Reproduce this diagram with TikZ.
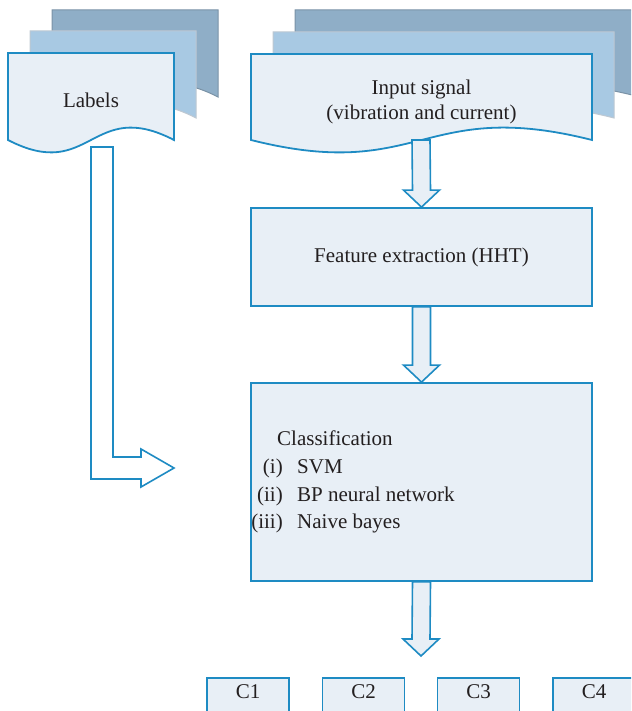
\documentclass[tikz,border=0pt]{standalone}
\usepackage{fontspec}
\setmainfont{Liberation Serif}
\usetikzlibrary{calc}

\definecolor{edgeblue}{RGB}{30,139,195}
\definecolor{boxfill}{RGB}{232,239,246}
\definecolor{sheetmid}{RGB}{168,201,227}
\definecolor{sheetmidedge}{RGB}{190,200,210}
\definecolor{sheetback}{RGB}{143,174,199}
\definecolor{sheetbackedge}{RGB}{122,146,166}
\definecolor{inktext}{RGB}{35,31,32}

\tikzset{
  % a sheet of paper with a wavy lower edge, top-left corner at the pic origin
  pics/docsheet/.style 2 args={code={
    \path[pic actions] (0,0) -- (#1,0) -- (#1,#2)
      .. controls ({#1/2},{#2-43}) and ({#1/2},{#2+43}) .. (0,#2) -- cycle;}},
  frontsheet/.style={fill=boxfill,draw=edgeblue,line width=1.8pt},
  midsheet/.style={fill=sheetmid,draw=sheetmidedge,line width=1pt},
  backsheet/.style={fill=sheetback,draw=sheetbackedge,line width=1pt},
  txt/.style={text=inktext,font=\fontsize{21}{25}\selectfont,inner sep=0pt},
  procbox/.style={draw=edgeblue,fill=boxfill,line width=1.8pt,inner sep=0pt},
  classbox/.style={procbox,txt,minimum width=82pt,text height=14pt,
    text depth=22pt,inner ysep=7pt,anchor=north},
  blockarrow/.style={draw=edgeblue,fill=boxfill,line width=1.6pt,line join=miter},
  labelarrow/.style={draw=edgeblue,fill=white,line width=1.6pt,line join=miter},
}

% hollow downward block arrow from #1 to the tip #2
\newcommand{\flowarrow}[2]{%
  \draw[blockarrow] ($(#1)+(-9,0)$) -- ($(#2)+(-9,-17)$) -- ($(#2)+(-18,-17)$)
    -- (#2) -- ($(#2)+(18,-17)$) -- ($(#2)+(9,-17)$) -- ($(#1)+(9,0)$) -- cycle;}

\begin{document}
\begin{tikzpicture}[x=1pt,y=-1pt]
\useasboundingbox (0,0) rectangle (631,711);
\clip (0,0) rectangle (631,711);

% stacked sheets: labels
\pic[backsheet]  at (52,10) {docsheet={166}{87}};
\pic[midsheet]   at (30,31) {docsheet={166}{87}};
\pic[frontsheet] at (8,53)   {docsheet={166}{87}};
% stacked sheets: input signal
\pic[backsheet]  at (295,10) {docsheet={341}{86}};
\pic[midsheet]   at (273,32) {docsheet={341}{86}};
\pic[frontsheet] at (251,54) {docsheet={341}{86}};

\node[txt,anchor=base] (lbl)  at (91,108)  {Labels};
\node[txt,anchor=base] (inp1) at (421.5,95)  {Input signal};
\node[txt,anchor=base] (inp2) at (421.5,119.5) {(vibration and current)};

% processing boxes
\node[procbox,txt,minimum width=341pt,minimum height=98pt] (feat) at (421.5,257)
  {Feature extraction (HHT)};
\node[procbox,minimum width=341pt,minimum height=198pt] (cls) at (421.5,482) {};

% arrows between the stages
\coordinate (inbot) at (421,140);
\flowarrow{inbot}{feat.north}
\flowarrow{feat.south}{cls.north}

\node[txt,anchor=base west] (clsT) at (277,445) {Classification};
\node[txt,anchor=base east] (n1) at (283,473) {(i)};
\node[txt,anchor=base west] (m1) at (297,473) {SVM};
\node[txt,anchor=base east] (n2) at (283,501) {(ii)};
\node[txt,anchor=base west] (m2) at (297,501) {BP neural network};
\node[txt,anchor=base east] (n3) at (283,528) {(iii)};
\node[txt,anchor=base west] (m3) at (297,528) {Naive bayes};

\coordinate (clsout) at (421,656);
\flowarrow{cls.south}{clsout}

% output classes
\node[classbox] (c1) at (248,677)   {C1};
\node[classbox] (c2) at (363.5,677) {C2};
\node[classbox] (c3) at (478.5,677) {C3};
\node[classbox] (c4) at (594,677)   {C4};

% bent arrow carrying the labels to the classifier
\coordinate (lblfoot) at (102,147);
\coordinate (lbltip) at (174,468);
\draw[labelarrow] ($(lblfoot)+(-11,0)$) -- ($(lblfoot)+(11,0)$)
  -- ($(lbltip)+(-61,-11)$) -- ($(lbltip)+(-33,-11)$) -- ($(lbltip)+(-33,-19)$)
  -- (lbltip) -- ($(lbltip)+(-33,19)$) -- ($(lbltip)+(-33,11)$)
  -- ($(lbltip)+(-83,11)$) -- cycle;
\end{tikzpicture}
\end{document}
